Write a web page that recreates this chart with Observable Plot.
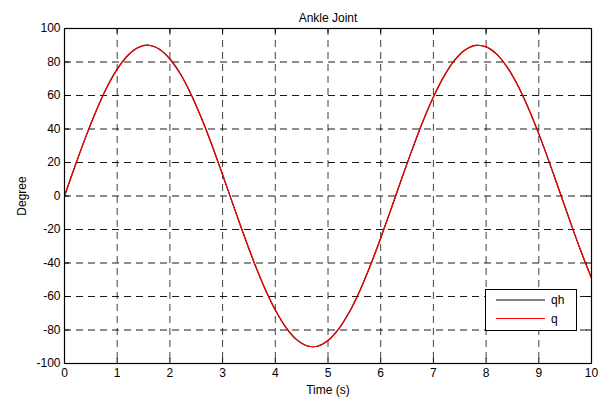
<!DOCTYPE html>
<html>
<head>
<meta charset="utf-8">
<script src="https://cdn.jsdelivr.net/npm/d3@7"></script>
<script src="https://cdn.jsdelivr.net/npm/@observablehq/plot@0.6"></script>
<style>
  html, body { margin: 0; padding: 0; background: #fff; }
  svg { display: block; }
</style>
</head>
<body>
<div id="chart"></div>
<script>
// Time samples (s)
const time = [0,0.2,0.4,0.6,0.8,1.0,1.2,1.4,1.6,1.8,2.0,2.2,2.4,2.6,2.8,3.0,3.2,3.4,3.6,3.8,4.0,4.2,4.4,4.6,4.8,5.0,5.2,5.4,5.6,5.8,6.0,6.2,6.4,6.6,6.8,7.0,7.2,7.4,7.6,7.8,8.0,8.2,8.4,8.6,8.8,9.0,9.2,9.4,9.6,9.8,10.0];
// Desired angle qh (degrees)
const qh = [0,17.9,35.0,50.8,64.6,75.7,83.9,88.7,90.0,87.6,81.8,72.8,60.8,46.4,30.2,12.7,-5.3,-23.0,-39.8,-55.1,-68.1,-78.4,-85.6,-89.4,-89.7,-86.3,-79.5,-69.6,-56.8,-41.8,-25.1,-7.5,10.5,28.0,44.5,59.1,71.4,80.9,87.1,89.9,89.0,84.7,76.9,66.1,52.6,37.1,20.1,2.2,-15.7,-33.0,-49.0];
// Measured angle q (degrees), overlaps qh in the picture
const q = [0,17.9,35.0,50.8,64.6,75.7,83.9,88.7,90.0,87.6,81.8,72.8,60.8,46.4,30.2,12.7,-5.3,-23.0,-39.8,-55.1,-68.1,-78.4,-85.6,-89.4,-89.7,-86.3,-79.5,-69.6,-56.8,-41.8,-25.1,-7.5,10.5,28.0,44.5,59.1,71.4,80.9,87.1,89.9,89.0,84.7,76.9,66.1,52.6,37.1,20.1,2.2,-15.7,-33.0,-49.0];
const xTicks = [0,1,2,3,4,5,6,7,8,9,10];
const yTicks = [-100,-80,-60,-40,-20,0,20,40,60,80,100];
const seriesNames = ["qh", "q"];
const seriesColors = ["black", "red"];
const titleText = "Ankle Joint";

const dataQh = time.map((t, i) => ({t, v: qh[i]}));
const dataQ = time.map((t, i) => ({t, v: q[i]}));

const W = 611, H = 403;
const mL = 64, mR = 20, mT = 28, mB = 40;
const font = "Liberation Sans, Arial, Helvetica, sans-serif";

const plot = Plot.plot({
  width: W,
  height: H,
  marginLeft: mL,
  marginRight: mR,
  marginTop: mT,
  marginBottom: mB,
  style: {fontFamily: font, fontSize: "12px", color: "black", background: "white"},
  x: {domain: [0, 10]},
  y: {domain: [-100, 100]},
  marks: [
    Plot.gridX(xTicks.slice(1, -1), {stroke: "black", strokeOpacity: 0.75, strokeWidth: 1, strokeDasharray: "7,5"}),
    Plot.gridY(yTicks.slice(1, -1), {stroke: "black", strokeOpacity: 0.9, strokeWidth: 1, strokeDasharray: "7,5"}),
    // small inward ticks (bottom/top/left/right)
    Plot.tickX(xTicks, {x: d => d, insetTop: H - mT - mB - 5, stroke: "black"}),
    Plot.tickX(xTicks, {x: d => d, insetBottom: H - mT - mB - 5, stroke: "black"}),
    Plot.tickY(yTicks, {y: d => d, insetRight: W - mL - mR - 5, stroke: "black"}),
    Plot.tickY(yTicks, {y: d => d, insetLeft: W - mL - mR - 5, stroke: "black"}),
    Plot.axisX({ticks: xTicks, tickSize: 0, tickPadding: 5, tickFormat: d => String(d), label: "Time (s)", labelAnchor: "center", labelArrow: "none", labelOffset: 30, fontSize: 12}),
    Plot.axisY({ticks: yTicks, tickSize: 0, tickPadding: 4, tickFormat: d => String(d), label: "Degree", labelAnchor: "center", labelArrow: "none", labelOffset: 47, fontSize: 12}),
    Plot.line(dataQh, {x: "t", y: "v", stroke: seriesColors[0], strokeWidth: 1.2, curve: "catmull-rom"}),
    Plot.line(dataQ, {x: "t", y: "v", stroke: seriesColors[1], strokeWidth: 1.2, curve: "catmull-rom"}),
    Plot.frame({stroke: "black", strokeWidth: 1.2}),
    Plot.text([titleText], {frameAnchor: "top", dy: -15, text: d => d, fontSize: 12, fill: "black"})
  ]
});

// legend inside the plot frame (bottom-right)
const svg = d3.select(plot);
const lg = svg.append("g").attr("font-family", font).attr("font-size", 12).attr("text-anchor", "start");
lg.append("rect").attr("x", 485.5).attr("y", 289.5).attr("width", 91).attr("height", 41)
  .attr("fill", "white").attr("stroke", "black").attr("stroke-width", 1);
seriesNames.forEach((name, i) => {
  const yy = 300 + i * 18.5;
  lg.append("line").attr("x1", 496).attr("x2", 545).attr("y1", yy).attr("y2", yy)
    .attr("stroke", seriesColors[i]).attr("stroke-width", 1);
  lg.append("text").attr("x", 551).attr("y", yy).attr("dy", "0.35em")
    .attr("text-anchor", "start").attr("fill", "black").text(name);
});

document.getElementById("chart").appendChild(plot);
</script>
</body>
</html>
